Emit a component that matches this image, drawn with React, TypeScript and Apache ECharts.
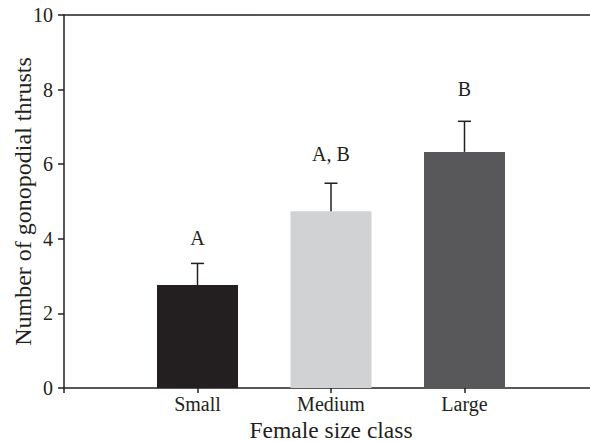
import React, { useEffect, useRef } from "react";
import * as echarts from "echarts";

const categories = ["Small", "Medium", "Large"];
const categoryPositions = [1, 2, 3];
const means = [2.76, 4.74, 6.33];
const errorTops = [3.34, 5.49, 7.15];
const letters = ["A", "A, B", "B"];
const letterLevels = [4.02, 6.27, 8.02];
const barColors = ["#231f20", "#d1d2d4", "#58585a"];
const yTicks = [0, 2, 4, 6, 8, 10];

const FONT = "Liberation Serif, serif";
const INK = "#231f20";

export default function App() {
  const ref = useRef<HTMLDivElement>(null);
  useEffect(() => {
    if (!ref.current) return;
    const chart = echarts.init(ref.current, null, { renderer: "svg" });
    const labelStyle = { fontFamily: FONT, fontSize: 20, color: INK };
    chart.setOption({
      animation: false,
      backgroundColor: "#ffffff",
      textStyle: { fontFamily: FONT, color: INK },
      grid: { left: 64, top: 15, right: -8, bottom: 54, containLabel: false, outerBoundsMode: "none" },
      xAxis: [
        {
          type: "value",
          min: 0,
          max: 4,
          interval: 1,
          splitLine: { show: false },
          axisLine: { show: true, lineStyle: { color: INK, width: 1.5 } },
          axisTick: { show: true, inside: false, length: 5, lineStyle: { color: INK, width: 1.5 } },
          axisLabel: {
            margin: 6,
            ...labelStyle,
            formatter: (v: number) => {
              const i = categoryPositions.indexOf(v);
              return i >= 0 ? categories[i] : "";
            },
          },
          name: "Female size class",
          nameLocation: "middle",
          nameGap: 30,
          nameMoveOverlap: false,
          nameTextStyle: { fontFamily: FONT, fontSize: 23.5, color: INK },
        },
        {
          type: "value",
          position: "top",
          min: 0,
          max: 4,
          interval: 1,
          splitLine: { show: false },
          axisLine: { show: true, lineStyle: { color: INK, width: 1.5 } },
          axisTick: { show: false },
          axisLabel: { show: false },
        },
      ],
      yAxis: {
        type: "value",
        min: yTicks[0],
        max: yTicks[yTicks.length - 1],
        interval: 2,
        splitLine: { show: false },
        axisLine: { show: true, lineStyle: { color: INK, width: 1.5 } },
        axisTick: { show: true, inside: false, length: 6, lineStyle: { color: INK, width: 1.5 } },
        axisLabel: { margin: 11, ...labelStyle },
        name: "Number of gonopodial thrusts",
        nameLocation: "middle",
        nameGap: 29,
        nameMoveOverlap: false,
        nameTextStyle: { fontFamily: FONT, fontSize: 24, color: INK },
      },
      series: [
        {
          type: "bar",
          xAxisIndex: 0,
          barWidth: 81,
          data: means.map((m, i) => ({
            value: [categoryPositions[i], m],
            itemStyle: { color: barColors[i] },
          })),
          z: 2,
        },
        {
          type: "custom",
          xAxisIndex: 0,
          z: 3,
          data: means.map((m, i) => [categoryPositions[i], m, errorTops[i], letterLevels[i], i]),
          renderItem: (params: any, api: any) => {
            const x = api.value(0);
            const lo = api.coord([x, api.value(1)]);
            const hi = api.coord([x, api.value(2)]);
            const lt = api.coord([x, api.value(3)]);
            const idx = api.value(4);
            const ls = { stroke: INK, lineWidth: 1.5 };
            return {
              type: "group",
              children: [
                { type: "line", shape: { x1: lo[0], y1: lo[1], x2: hi[0], y2: hi[1] }, style: ls },
                { type: "line", shape: { x1: hi[0] - 6.5, y1: hi[1], x2: hi[0] + 6.5, y2: hi[1] }, style: ls },
                {
                  type: "text",
                  style: {
                    text: letters[idx],
                    x: lt[0],
                    y: lt[1],
                    align: "center",
                    verticalAlign: "middle",
                    fontFamily: FONT,
                    fontSize: 20,
                    fill: INK,
                  },
                },
              ],
            };
          },
        },
      ],
    });
    return () => chart.dispose();
  }, []);
  return <div ref={ref} style={{ width: 590, height: 442, position: "absolute", left: 0, top: 0 }} />;
}
